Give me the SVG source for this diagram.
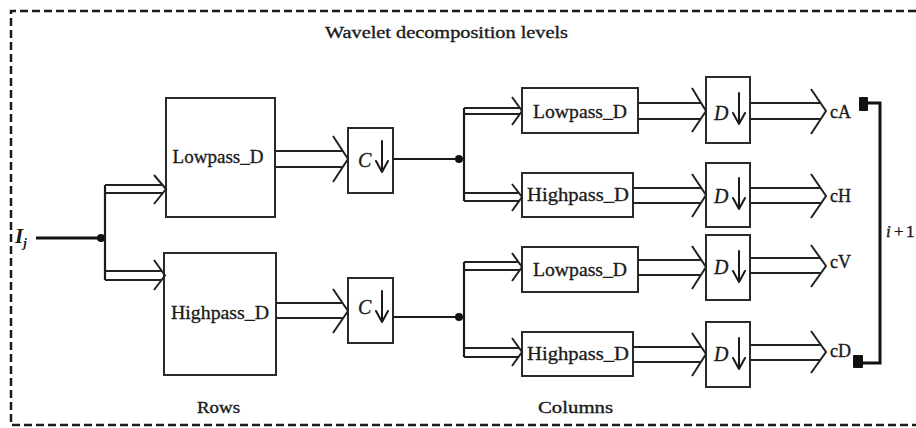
<svg xmlns="http://www.w3.org/2000/svg" width="916" height="428" viewBox="0 0 916 428">
  <style>
    text { font-family: "Liberation Serif", "Times New Roman", serif; fill: #1a1a1a; }
    .lbl { font-size: 18px; text-anchor: middle; stroke: #1a1a1a; stroke-width: 0.3; }
    .cap { font-size: 17px; stroke: #1a1a1a; stroke-width: 0.35; }
    .out { font-size: 18px; stroke: #1a1a1a; stroke-width: 0.35; }
    .op { font-size: 20px; font-style: italic; stroke: #1a1a1a; stroke-width: 0.3; }
    .dn { fill: none; stroke: #1a1a1a; stroke-width: 2; stroke-linecap: round; stroke-linejoin: round; }
    .box { fill: #ffffff; stroke: #2a2a2a; stroke-width: 2; }
    .wide { fill: none; stroke: #222222; stroke-width: 2; stroke-linejoin: miter; }
    .wire { fill: none; stroke: #1a1a1a; stroke-width: 2.2; }
    .thick { fill: none; stroke: #111111; stroke-width: 3; }
    .frame { fill: none; stroke: #1a1a1a; stroke-width: 2.5; stroke-dasharray: 8 4; }
    .dot { fill: #111111; }
  </style>

  <defs>
    <!-- downsampling arrow, drawn from its top point -->
    <path id="down" class="dn" d="M0,0 V31 M-6,20 L0,31 L6,20"/>
  </defs>

  <!-- dashed frame, open on the right -->
  <path class="frame" d="M916,11 H11 V425 H916"/>

  <text class="cap" x="325" y="38" textLength="243" lengthAdjust="spacingAndGlyphs">Wavelet decomposition levels</text>
  <text class="cap" x="197" y="413" textLength="43" lengthAdjust="spacingAndGlyphs">Rows</text>
  <text class="cap" x="538" y="413" textLength="75" lengthAdjust="spacingAndGlyphs">Columns</text>

  <!-- input -->
  <g id="input">
    <text x="15" y="243" style="font-size:21px;font-style:italic;font-weight:bold">I<tspan dy="4" style="font-size:13px">j</tspan></text>
  </g>

  <!-- row filters -->
  <g id="row-lowpass">
    <rect class="box" x="166" y="98" width="109" height="119"/>
    <text class="lbl" x="218" y="163" textLength="91" lengthAdjust="spacingAndGlyphs">Lowpass_D</text>
  </g>
  <g id="row-highpass">
    <rect class="box" x="164" y="253" width="112" height="122"/>
    <text class="lbl" x="220" y="319" textLength="98" lengthAdjust="spacingAndGlyphs">Highpass_D</text>
  </g>

  <!-- column downsamplers -->
  <g id="c-down-1">
    <rect class="box" x="348" y="128" width="45" height="65"/>
    <text class="op" x="358" y="167">C</text>
    <use href="#down" x="382" y="141"/>
  </g>
  <g id="c-down-2">
    <rect class="box" x="348" y="278" width="45" height="65"/>
    <text class="op" x="358" y="314">C</text>
    <use href="#down" x="382" y="291"/>
  </g>

  <!-- column filters -->
  <g id="col-lowpass-1">
    <rect class="box" x="522" y="88" width="116" height="45"/>
    <text class="lbl" x="580" y="118" textLength="94" lengthAdjust="spacingAndGlyphs">Lowpass_D</text>
  </g>
  <g id="col-highpass-1">
    <rect class="box" x="522" y="173" width="111" height="44"/>
    <text class="lbl" x="578" y="201" textLength="102" lengthAdjust="spacingAndGlyphs">Highpass_D</text>
  </g>
  <g id="col-lowpass-2">
    <rect class="box" x="522" y="247" width="116" height="45"/>
    <text class="lbl" x="580" y="276" textLength="94" lengthAdjust="spacingAndGlyphs">Lowpass_D</text>
  </g>
  <g id="col-highpass-2">
    <rect class="box" x="522" y="332" width="111" height="44"/>
    <text class="lbl" x="578" y="360" textLength="102" lengthAdjust="spacingAndGlyphs">Highpass_D</text>
  </g>

  <!-- row downsamplers -->
  <g id="d-down-1">
    <rect class="box" x="706" y="77" width="44" height="66"/>
    <text class="op" x="714" y="120">D</text>
    <use href="#down" x="739" y="93"/>
  </g>
  <g id="d-down-2">
    <rect class="box" x="706" y="163" width="44" height="64"/>
    <text class="op" x="714" y="203">D</text>
    <use href="#down" x="739" y="178"/>
  </g>
  <g id="d-down-3">
    <rect class="box" x="706" y="235" width="44" height="65"/>
    <text class="op" x="714" y="274">D</text>
    <use href="#down" x="739" y="251"/>
  </g>
  <g id="d-down-4">
    <rect class="box" x="706" y="322" width="44" height="65"/>
    <text class="op" x="714" y="361">D</text>
    <use href="#down" x="739" y="338"/>
  </g>

  <!-- sub-band outputs -->
  <g id="out-cA"><text class="out" x="830" y="118">cA</text></g>
  <g id="out-cH"><text class="out" x="830" y="202">cH</text></g>
  <g id="out-cV"><text class="out" x="830" y="268">cV</text></g>
  <g id="out-cD"><text class="out" x="830" y="357">cD</text></g>

  <!-- feedback to next level -->
  <g id="next-level">
    <rect x="859" y="97" width="9" height="14" rx="1" fill="#111"/>
    <rect x="853" y="355" width="10" height="13" rx="1" fill="#111"/>
    <text class="cap" x="886" y="237"><tspan font-style="italic">i</tspan><tspan x="894">+</tspan><tspan x="906">1</tspan></text>
  </g>

  <g id="connectors">
    <!-- input wire and split -->
    <path class="thick" d="M36,238 H101"/>
    <circle class="dot" cx="101" cy="238" r="4"/>
    <path class="wire" d="M105,185 V280"/>
    <path class="wide" d="M105,185 H162.6 M154,175 L166,189 L154,204 M105,193 H162.8"/>
    <path class="wide" d="M105,271 H161.8 M154,260 L165,275.5 L154,290 M105,280 H161.6"/>

    <!-- row filters to C downsamplers -->
    <path class="wide" d="M275,151 H342.8 M333,136 L348,159 L333,182 M275,167 H342.8"/>
    <path class="wide" d="M276,303 H342.5 M333,289 L348,311 L333,333 M276,318 H343.2"/>

    <!-- C outputs and column splits -->
    <path class="wire" d="M393,159 H459"/>
    <circle class="dot" cx="459" cy="159" r="4"/>
    <path class="wire" d="M393,317 H459"/>
    <circle class="dot" cx="459" cy="317" r="4"/>
    <path class="wire" d="M464,108 V201"/>
    <path class="wire" d="M464,262 V357"/>

    <path class="wide" d="M464,108 H519.9 M512,97 L522,111 L512,125 M464,114 H519.9"/>
    <path class="wide" d="M464,193 H519.1 M512,184 L522,197 L512,211 M464,201 H518.5"/>
    <path class="wide" d="M464,262 H518.4 M512,253 L522,267 L512,281 M464,270 H519.9"/>
    <path class="wide" d="M464,348 H519.1 M512,338 L522,352 L512,366 M464,357 H518.4"/>

    <!-- column filters to D downsamplers -->
    <path class="wide" d="M638,103 H701.1 M692,88 L706,111 L692,132 M638,119 H700.7"/>
    <path class="wide" d="M633,188 H701.3 M692,174 L706,195 L692,217 M633,203 H700.9"/>
    <path class="wide" d="M638,260 H701.3 M692,246 L706,267 L692,289 M638,275 H700.9"/>
    <path class="wide" d="M633,347 H701.3 M692,333 L706,354 L692,376 M633,362 H700.9"/>

    <!-- D downsamplers to sub-bands -->
    <path class="wide" d="M750,103 H820.5 M811,89 L826,111 L811,134 M750,119 H820.8"/>
    <path class="wide" d="M750,188 H820.5 M811,174 L826,196 L811,218 M750,203 H821.2"/>
    <path class="wide" d="M750,258 H820.3 M811,245 L826,266 L811,287 M750,273 H821"/>
    <path class="wide" d="M750,345 H821 M811,331 L826,352 L811,373 M750,360 H820.3"/>

    <!-- level feedback bracket -->
    <path class="thick" d="M868,103 H880 V363 H863"/>
  </g>
</svg>
